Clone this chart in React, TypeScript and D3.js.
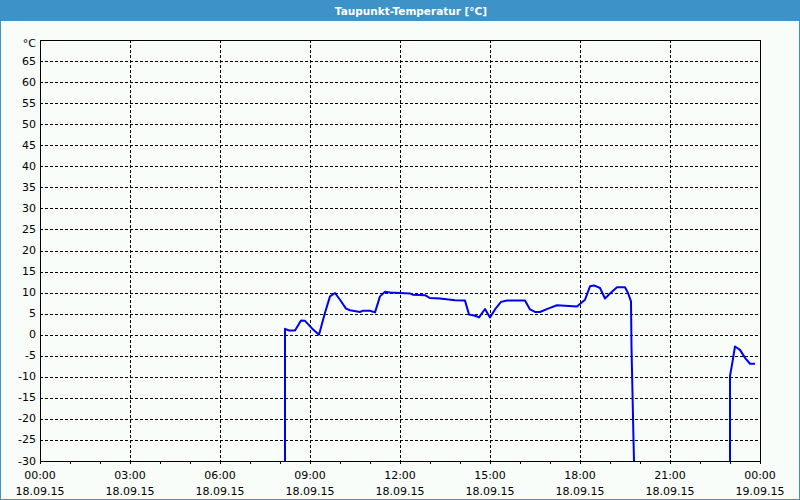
import React from "react";
import * as d3 from "d3";

const title = "Taupunkt-Temperatur [°C]";
const yUnit = "°C";
const yTicks = [-30, -25, -20, -15, -10, -5, 0, 5, 10, 15, 20, 25, 30, 35, 40, 45, 50, 55, 60, 65];
const xTickHours = [0, 3, 6, 9, 12, 15, 18, 21, 24];

const times1 = [
  "08:10", "08:10", "08:18", "08:30", "08:42", "08:50", "09:04", "09:18", "09:30", "09:40",
  "09:50", "10:00", "10:12", "10:20", "10:40", "10:46", "11:00", "11:10", "11:20", "11:30",
  "11:40", "12:20", "12:26", "12:50", "13:00", "13:20", "13:50", "14:10", "14:18", "14:30",
  "14:38", "14:50", "15:00", "15:10", "15:22", "15:34", "16:10", "16:20", "16:30", "16:40",
  "16:56", "17:14", "17:30", "17:54", "18:10", "18:20", "18:28", "18:40", "18:50", "19:00",
  "19:14", "19:30", "19:36", "19:42", "19:43", "19:45", "19:47", "19:48",
];
const values1 = [
  -30, 1.4, 1.0, 1.0, 3.4, 3.3, 1.5, 0.0, 5.2, 9.1,
  9.9, 8.3, 6.2, 5.8, 5.4, 5.7, 5.7, 5.3, 9.1, 10.2,
  10.0, 9.8, 9.5, 9.4, 8.7, 8.6, 8.2, 8.1, 4.8, 4.5,
  4.1, 6.1, 4.1, 6.0, 7.8, 8.1, 8.1, 6.0, 5.4, 5.4,
  6.2, 7.0, 6.9, 6.7, 8.3, 11.5, 11.7, 11.1, 8.6, 9.8,
  11.25, 11.25, 9.9, 7.9, -3.1, -13.9, -25, -30,
];
const times2 = ["23:00", "23:00", "23:04", "23:10", "23:20", "23:30", "23:40", "23:50"];
const values2 = [-30, -9.8, -7.1, -2.8, -3.6, -5.5, -6.9, -6.9];

const W = 800;
const H = 500;
const L = 40, R = 760, T = 40, B = 461;
const FONT = "Tahoma, 'DejaVu Sans', sans-serif";

const day0 = new Date(2015, 8, 18, 0, 0);
const day1 = new Date(2015, 8, 19, 0, 0);

function toDate(s: string): Date {
  const [h, m] = s.split(":").map(Number);
  return new Date(2015, 8, 18, h, m);
}

export default function App() {
  const x = d3.scaleTime().domain([day0, day1]).range([L, R]);
  const y = d3.scaleLinear().domain([-30, 70]).range([B, T]);
  const fTime = d3.timeFormat("%H:%M");
  const fDate = d3.timeFormat("%d.%m.%y");

  const line = d3
    .line<[Date, number]>()
    .x((d) => x(d[0]))
    .y((d) => y(d[1]));

  const seg1: [Date, number][] = times1.map((t, i) => [toDate(t), values1[i]]);
  const seg2: [Date, number][] = times2.map((t, i) => [toDate(t), values2[i]]);

  const hourTicks = d3.timeHour.range(day0, d3.timeHour.offset(day1, 1));
  const majorTicks = xTickHours.map((h) => d3.timeHour.offset(day0, h));

  return (
    <svg
      width={W}
      height={H}
      style={{ position: "absolute", left: 0, top: 0, display: "block" }}
      fontFamily={FONT}
    >
      <defs>
        <clipPath id="plotclip">
          <rect x={L} y={T} width={R - L} height={B - T + 1} />
        </clipPath>
      </defs>
      <rect x={0} y={0} width={W} height={H} fill="#3d92c8" />
      <rect x={1} y={21} width={W - 2} height={H - 22} fill="#f9fdf9" />
      <text
        x={W / 2 + 11}
        y={11}
        fill="#ffffff"
        fontSize={10.5}
        fontWeight="bold"
        textAnchor="middle"
        dominantBaseline="central"
      >
        {title}
      </text>

      <g shapeRendering="crispEdges">
        {yTicks
          .filter((v) => v > -30)
          .map((v) => (
            <line
              key={"h" + v}
              x1={L}
              x2={R}
              y1={Math.round(y(v)) + 0.5}
              y2={Math.round(y(v)) + 0.5}
              stroke="#000"
              strokeWidth={1}
              strokeDasharray="3,2"
            />
          ))}
        {majorTicks
          .filter((d, i) => i > 0 && i < majorTicks.length - 1)
          .map((d, i) => (
            <line
              key={"v" + i}
              x1={Math.round(x(d)) + 0.5}
              x2={Math.round(x(d)) + 0.5}
              y1={T}
              y2={B}
              stroke="#000"
              strokeWidth={1}
              strokeDasharray="3,2"
            />
          ))}
        {hourTicks.map((d, i) => (
          <line
            key={"t" + i}
            x1={Math.round(x(d)) + 0.5}
            x2={Math.round(x(d)) + 0.5}
            y1={B}
            y2={B + 3}
            stroke="#000"
          />
        ))}
        <rect
          x={L + 0.5}
          y={T + 0.5}
          width={R - L}
          height={B - T}
          fill="none"
          stroke="#000"
          strokeWidth={1}
        />
      </g>

      <g clipPath="url(#plotclip)">
        <path
          d={line(seg1) || ""}
          fill="none"
          stroke="#0000f0"
          strokeWidth={2}
          strokeLinejoin="round"
        />
        <path
          d={line(seg2) || ""}
          fill="none"
          stroke="#0000f0"
          strokeWidth={2}
          strokeLinejoin="round"
        />
      </g>

      <g fontSize={11} fill="#000" textAnchor="end">
        {yTicks.map((v) => (
          <text key={"yl" + v} x={36} y={y(v)} dominantBaseline="central">
            {String(v)}
          </text>
        ))}
        <text x={36} y={T + 3} dominantBaseline="central">
          {yUnit}
        </text>
      </g>

      <g fontSize={11} fill="#000" textAnchor="middle">
        {majorTicks.map((d, i) => (
          <g key={"xl" + i}>
            <text x={x(d)} y={475} dominantBaseline="central">
              {fTime(d)}
            </text>
            <text x={x(d)} y={491} dominantBaseline="central">
              {fDate(d)}
            </text>
          </g>
        ))}
      </g>
    </svg>
  );
}
